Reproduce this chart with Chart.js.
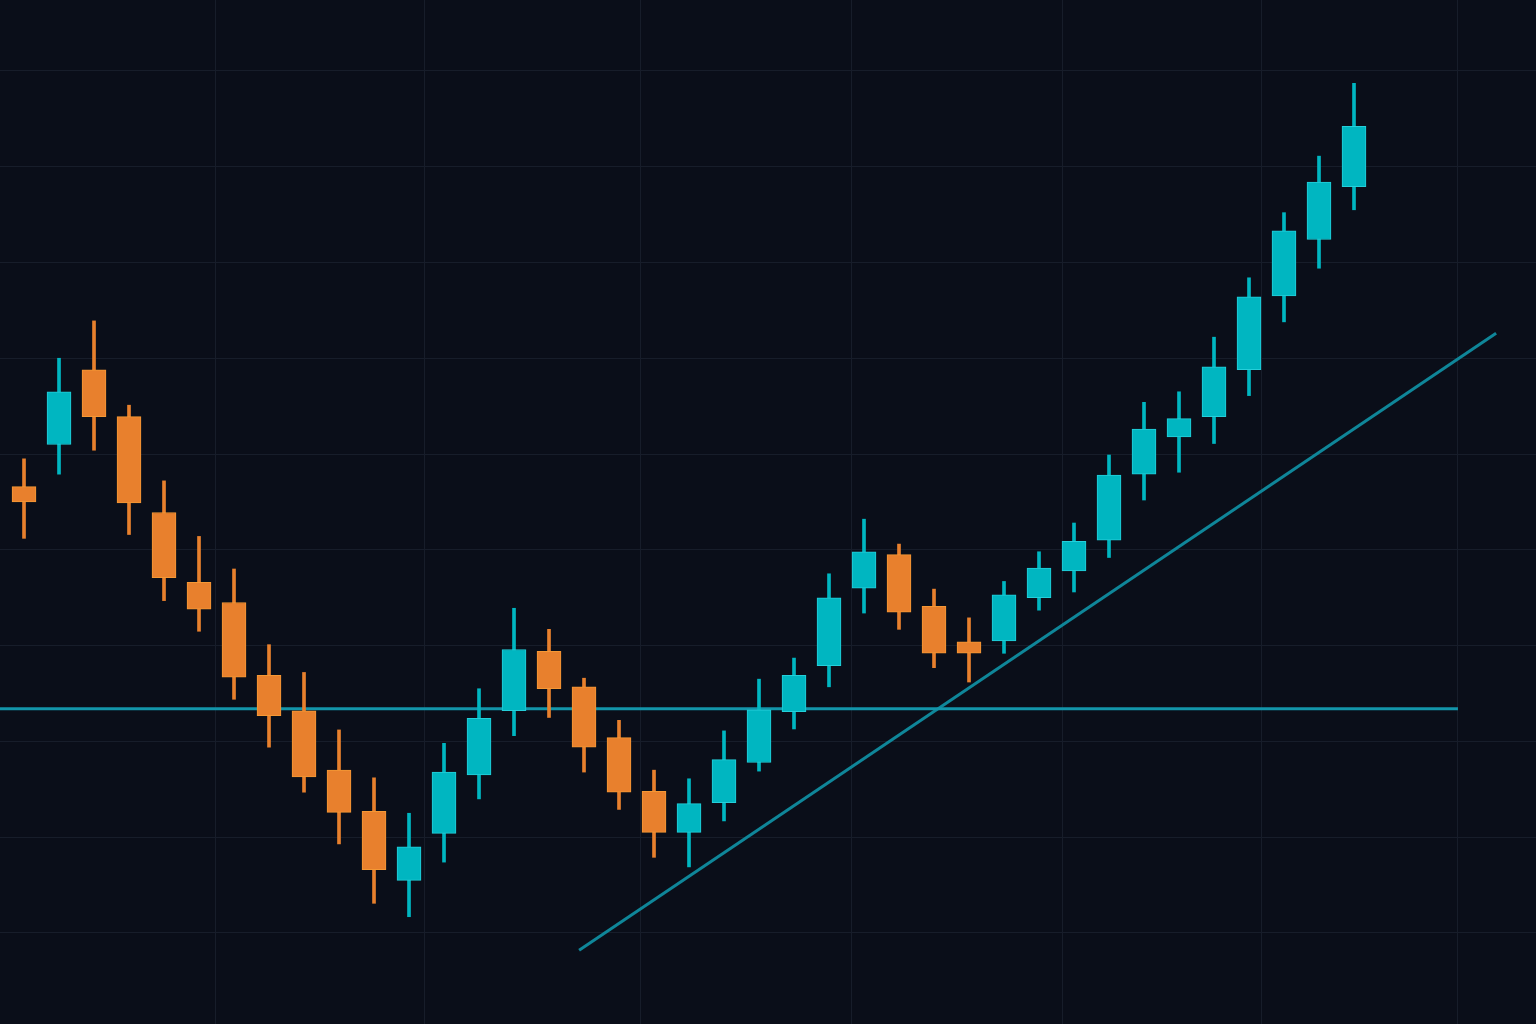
<!DOCTYPE html>
<html>
<head>
<meta charset="utf-8">
<script src="https://cdn.jsdelivr.net/npm/chart.js@4.4.1/dist/chart.umd.min.js"></script>
<style>
  html, body { margin: 0; padding: 0; background: #0A0E19; }
  #wrap { width: 1536px; height: 1024px; position: relative; }
</style>
</head>
<body>
<div id="wrap"><canvas id="c"></canvas></div>
<script>
// ---- data ----
const categories = Array.from({length: 39}, (_, i) => 'D' + (i + 1));
const opens  = [146.6,151.0,158.8,153.9,143.9,136.6,134.5,126.9,123.2,117.0,112.7,105.5,110.4,116.5,123.2,129.4,125.7,120.4,114.8,110.5,113.6,117.8,123.1,127.9,136.0,139.5,134.1,130.4,130.5,135.0,137.8,141.0,147.9,151.8,153.9,158.8,166.5,172.4,177.9];
const highs  = [149.5,160.0,163.9,155.1,147.2,141.4,138.0,130.1,127.2,121.2,116.2,112.5,119.8,125.5,133.9,131.7,126.6,122.2,117.0,116.1,121.1,126.5,128.7,137.5,143.2,140.6,135.9,132.9,136.7,139.8,142.8,149.9,155.4,156.5,162.2,168.4,175.2,181.1,188.7];
const lows   = [141.2,147.9,150.4,141.6,134.7,131.5,124.4,119.4,114.7,109.3,103.1,101.7,107.4,114.0,120.6,122.5,116.8,112.9,107.9,106.9,111.7,116.9,121.3,125.7,133.4,131.7,127.7,126.2,129.2,133.7,135.6,139.2,145.2,148.1,151.1,156.1,163.8,169.4,175.5];
const closes = [145.0,156.5,153.9,144.9,137.1,133.8,126.7,122.7,116.3,112.6,106.6,109.0,116.8,122.4,129.6,125.5,119.4,114.7,110.5,113.5,118.1,123.3,126.9,135.0,139.8,133.5,129.2,129.2,135.3,138.1,140.9,147.8,152.6,153.7,159.1,166.4,173.3,178.4,184.2];
const supportLevel = [123.4];            // horizontal level
const supportRange = [-0.69, 40.97];     // index span of the level
const trendIdx     = [15.86, 42.06];     // trendline endpoints (candle index)
const trendPrice   = [98.2, 162.6];      // trendline endpoints (price)
const yTicks = [100,110,120,130,140,150,160,170,180,190];
const xTicks = [5.46,11.43,17.6,23.63,29.66,35.37,40.97];

// ---- styles ----
const UP_FILL = '#00B6C1', UP_BORDER = '#25CFDA';
const DN_FILL = '#E8802D', DN_BORDER = '#F59835';
const GRID = '#171D2A';

const isUp = i => closes[i] >= opens[i];
const bodies = categories.map((c, i) => ({x: i, y: [opens[i], closes[i]]}));
const wicks  = categories.map((c, i) => ({x: i, y: [lows[i], highs[i]]}));

const ctx = document.getElementById('c');
new Chart(ctx, {
  type: 'bar',
  data: {
    datasets: [
      {
        type: 'line',
        data: [{x: supportRange[0], y: supportLevel[0]}, {x: supportRange[1], y: supportLevel[0]}],
        borderColor: '#1395AA', borderWidth: 3, pointRadius: 0, order: 3
      },
      {
        type: 'line',
        data: [{x: trendIdx[0], y: trendPrice[0]}, {x: trendIdx[1], y: trendPrice[1]}],
        borderColor: '#0F8699', borderWidth: 3, pointRadius: 0, order: 3
      },
      {
        data: wicks,
        backgroundColor: ctx => isUp(ctx.dataIndex) ? UP_FILL : DN_FILL,
        borderWidth: 0,
        barThickness: 3,
        grouped: false,
        order: 2
      },
      {
        data: bodies,
        backgroundColor: ctx => isUp(ctx.dataIndex) ? UP_FILL : DN_FILL,
        borderColor: ctx => isUp(ctx.dataIndex) ? UP_BORDER : DN_BORDER,
        borderWidth: 1,
        borderSkipped: false,
        barThickness: 24,
        grouped: false,
        order: 1
      }
    ]
  },
  options: {
    responsive: true,
    maintainAspectRatio: false,
    animation: false,
    layout: { padding: 0 },
    plugins: { legend: { display: false }, tooltip: { enabled: false } },
    scales: {
      x: {
        type: 'linear',
        min: -0.686, max: 43.2,
        offset: false,
        border: { display: false },
        grid: { color: GRID, lineWidth: 1, drawTicks: false, offset: false },
        ticks: { display: false },
        afterBuildTicks: s => { s.ticks = xTicks.map(v => ({value: v})); }
      },
      y: {
        type: 'linear',
        min: 90.5, max: 197.4,
        beginAtZero: false,
        border: { display: false },
        grid: { color: GRID, lineWidth: 1, drawTicks: false },
        ticks: { display: false },
        afterBuildTicks: s => { s.ticks = yTicks.map(v => ({value: v})); }
      }
    }
  }
});
</script>
</body>
</html>
